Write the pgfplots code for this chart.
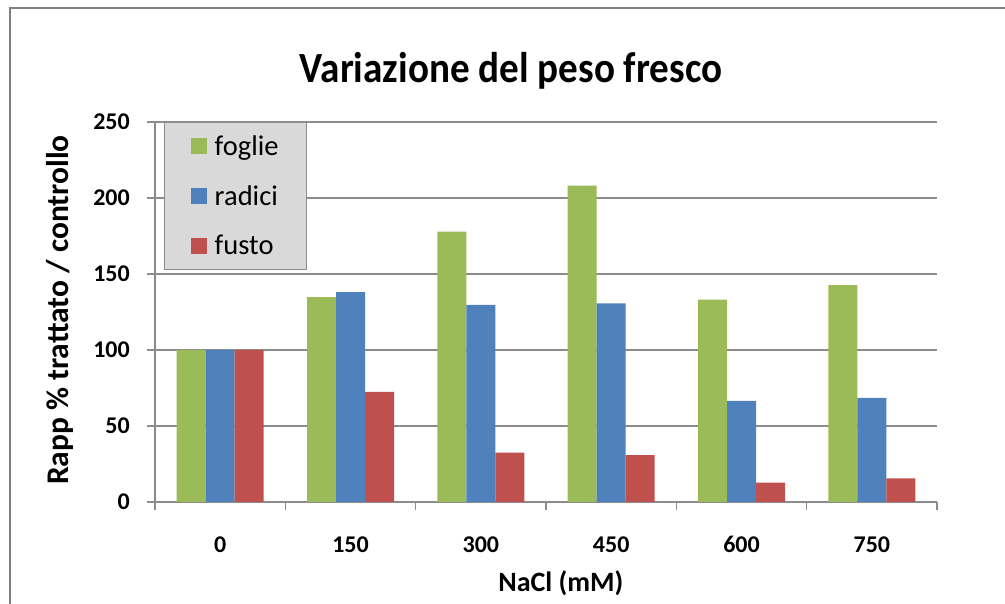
\documentclass[border=0pt]{standalone}
\usepackage{fontspec}
\setmainfont{Carlito}
\usepackage{pgfplots}
\pgfplotsset{compat=1.18}

\definecolor{cfoglie}{RGB}{155,187,89}
\definecolor{cradici}{RGB}{79,129,189}
\definecolor{cfusto}{RGB}{192,80,77}
\definecolor{gridgray}{RGB}{140,140,140}
\definecolor{framegray}{RGB}{128,128,128}
\definecolor{legfill}{RGB}{217,217,217}

\begin{document}
\begin{tikzpicture}[x=1pt,y=1pt]
\useasboundingbox (0,0) rectangle (1005,604);
\fill[white] (0,0) rectangle (1005,604);
% chart frame
\draw[framegray, line width=2pt] (10,-2) -- (10,596) -- (1007,596);
% title
\node[font=\fontsize{43}{50}\selectfont\bfseries, anchor=base, inner sep=0pt]
  at (511,521) {\scalebox{0.91}[1]{Variazione del peso fresco}};

\begin{axis}[
  at={(155pt,102pt)}, anchor=south west,
  width=782pt, height=380pt, scale only axis,
  xmin=-0.5, xmax=5.5, ymin=0, ymax=250,
  axis x line*=bottom, axis y line*=left,
  axis line style={gridgray, line width=1.2pt},
  xtick={-0.5,0.5,...,5.5},
  xticklabels={0,150,300,450,600,750,{}},
  ytick={0,50,...,250},
  tick align=outside, tick pos=left,
  major tick length=8pt,
  tick style={gridgray, line width=1.2pt},
  ymajorgrids,
  major grid style={gridgray, line width=1.2pt},
  /pgf/number format/assume math mode=true,
  ticklabel style={font=\fontsize{24}{28}\selectfont\bfseries},
  xticklabel style={xshift=65.17pt, anchor=base, inner sep=0pt, yshift=-43pt},
  yticklabel style={anchor=east, inner sep=0pt, xshift=-17pt},
  xlabel={NaCl (mM)},
  ylabel={Rapp \% trattato / controllo},
  xlabel style={font=\fontsize{28}{32}\selectfont\bfseries,
    at={(axis description cs:0.519,0)}, anchor=base, yshift=-90pt, inner sep=0pt},
  ylabel style={font=\fontsize{31.5}{36}\selectfont\bfseries,
    at={(axis description cs:0,0.505)}, rotate=0, anchor=base, yshift=86pt, inner sep=0pt},
  ybar=0pt, bar width=29pt,
  legend style={at={(axis description cs:0.0115,1)}, anchor=north west,
    fill=legfill, draw=gridgray, line width=1.5pt,
    font=\fontsize{28.5}{32}\selectfont,
    inner xsep=26pt, inner ysep=11pt, row sep=24.5pt, column sep=6pt,
    nodes={inner sep=2pt}},
  legend cell align=left,
  legend image code/.code={\fill[#1] (0pt,-8pt) rectangle (16pt,8pt);},
]
\addplot[fill=cfoglie, draw=none] coordinates {(0,100) (1,134.7) (2,177.9) (3,208.2) (4,133.2) (5,142.7)};
\addplot[fill=cradici, draw=none] coordinates {(0,100) (1,138.1) (2,129.7) (3,130.6) (4,66.5) (5,68.5)};
\addplot[fill=cfusto, draw=none] coordinates {(0,100) (1,72.5) (2,32.5) (3,30.8) (4,12.8) (5,15.5)};
\legend{foglie,radici,fusto}
\end{axis}
\end{tikzpicture}
\end{document}
